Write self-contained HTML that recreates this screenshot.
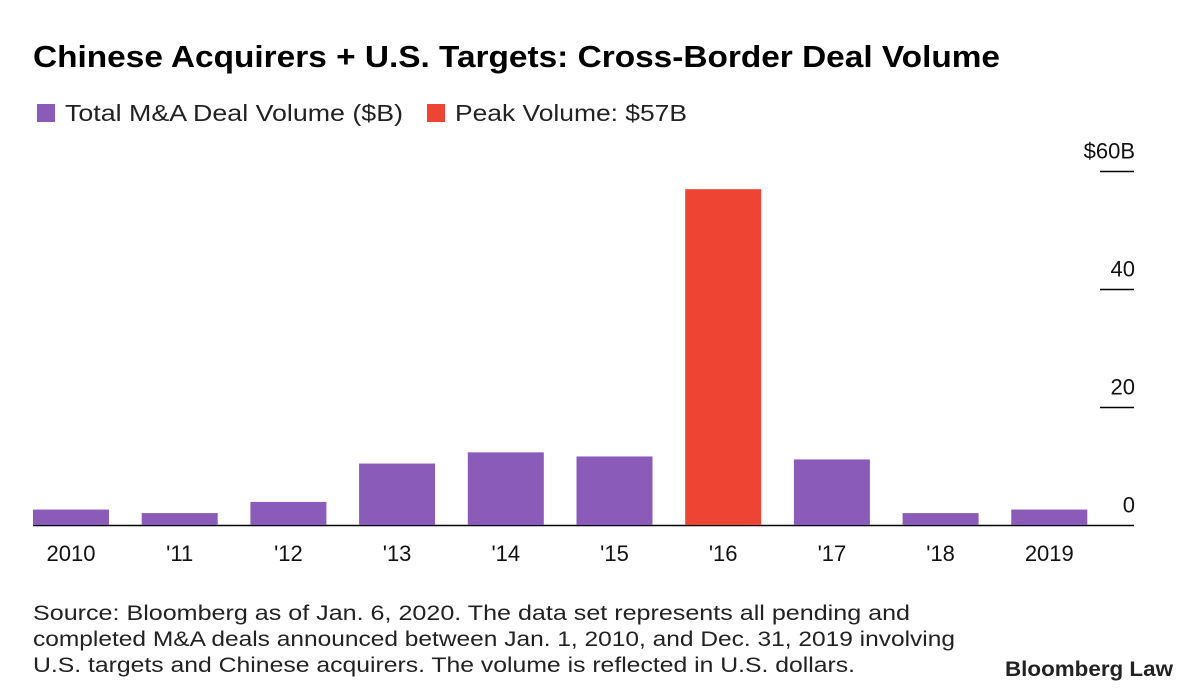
<!DOCTYPE html>
<html><head><meta charset="utf-8"><style>
html,body{margin:0;padding:0;background:#fff}
svg{display:block;font-family:"Liberation Sans",sans-serif}
</style></head><body>
<svg id="chart" width="1200" height="698" viewBox="0 0 1200 698" xmlns="http://www.w3.org/2000/svg">
<text x="33" y="67" font-size="31" font-weight="bold" fill="#000" textLength="967" lengthAdjust="spacingAndGlyphs">Chinese Acquirers + U.S. Targets: Cross-Border Deal Volume</text>
<g>
<rect x="37" y="104" width="18" height="18" fill="#8a5bb8"/>
<text x="65" y="121" font-size="23" fill="#222" textLength="338" lengthAdjust="spacingAndGlyphs">Total M&amp;A Deal Volume ($B)</text>
<rect x="427" y="104" width="18" height="18" fill="#ee4433"/>
<text x="455" y="121" font-size="23" fill="#222" textLength="232" lengthAdjust="spacingAndGlyphs">Peak Volume: $57B</text>
</g>
<g id="axis"></g>
<g id="bars"></g>
<g id="xlabels"></g>
<g font-size="21" fill="#222">
<text x="33" y="620" textLength="877" lengthAdjust="spacingAndGlyphs">Source: Bloomberg as of Jan. 6, 2020. The data set represents all pending and</text>
<text x="33" y="646" textLength="922" lengthAdjust="spacingAndGlyphs">completed M&amp;A deals announced between Jan. 1, 2010, and Dec. 31, 2019 involving</text>
<text x="33" y="672" textLength="822" lengthAdjust="spacingAndGlyphs">U.S. targets and Chinese acquirers. The volume is reflected in U.S. dollars.</text>
</g>
<text x="1005" y="676" font-size="21" font-weight="bold" fill="#222" textLength="168" lengthAdjust="spacingAndGlyphs">Bloomberg Law</text>
</svg>
<script>
const categories = ["2010","'11","'12","'13","'14","'15","'16","'17","'18","2019"];
const values = [2.7, 2.1, 4.0, 10.5, 12.4, 11.7, 57, 11.2, 2.1, 2.7];
const peakIndex = 6;
const ticks = [0, 20, 40, 60];
const tickLabels = ["0", "20", "40", "$60B"];

const NS = "http://www.w3.org/2000/svg";
const baseY = 525.5, pxPer = 5.9;
const x0 = 33, step = 108.7, bw = 76;
const yScale = v => baseY - v * pxPer;
const xScale = i => x0 + i * step;
function mk(tag, attrs, parent){const e=document.createElementNS(NS,tag);for(const k in attrs)e.setAttribute(k,attrs[k]);parent.appendChild(e);return e;}

const axis = document.getElementById('axis');
ticks.forEach((t,i)=>{
  const y = yScale(t);
  if (t === 0) {
    const l = mk('line',{x1:33,x2:1134,y1:y,y2:y,stroke:'#000','stroke-width':1.5},axis);
    
    
  } else {
    const l = mk('line',{x1:1100,x2:1134,y1:y,y2:y,stroke:'#000','stroke-width':1.5},axis);
    
    
  }
  const tx = mk('text',{x:1135,y:y-13,'font-size':22,'text-anchor':'end',fill:'#111'},axis);
  tx.textContent = tickLabels[i];
  
  
});

const bars = document.getElementById('bars');
values.forEach((v,i)=>{
  const r = mk('rect',{x:xScale(i),y:yScale(v),width:bw,height:v*pxPer-0.5,fill:i===peakIndex?'#ee4433':'#8a5bb8'},bars);
  
  
});

const xl = document.getElementById('xlabels');
categories.forEach((c,i)=>{
  const t = mk('text',{x:xScale(i)+bw/2,y:561,'font-size':22,'text-anchor':'middle',fill:'#111'},xl);
  t.textContent = c;
  
  
});
</script>
</body></html>
